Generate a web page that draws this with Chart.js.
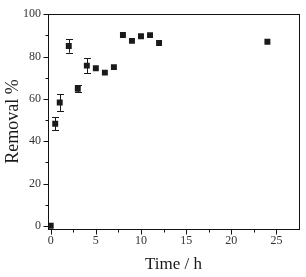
<!DOCTYPE html>
<html>
<head>
<meta charset="utf-8">
<script src="https://cdn.jsdelivr.net/npm/chart.js@4/dist/chart.umd.min.js"></script>
<style>
html,body{margin:0;padding:0;background:#fff;}
#wrap{width:306px;height:277px;position:relative;}
</style>
</head>
<body>
<div id="wrap"><canvas id="c" width="306" height="277"></canvas></div>
<script>
const timeH = [0, 0.5, 1, 2, 3, 4, 5, 6, 7, 8, 9, 10, 11, 12, 24];
const removal = [0, 48.2, 58.3, 85.0, 64.8, 75.7, 74.5, 72.4, 75.0, 90.2, 87.4, 89.6, 90.1, 86.4, 87.0];
const errors = [0, 3.1, 4.0, 3.2, 1.7, 3.6, 0, 0, 0, 0, 0, 0, 0, 0, 0];
const xMajorTicks = [0, 5, 10, 15, 20, 25];
const xMinorTicks = [2.5, 7.5, 12.5, 17.5, 22.5];
const yMajorTicks = [0, 20, 40, 60, 80, 100];
const yMinorTicks = [10, 30, 50, 70, 90];

const points = timeH.map((t, i) => ({x: t, y: removal[i]}));

const framePlugin = {
  id: 'frameTicks',
  afterDatasetsDraw(chart) {
    const {ctx, chartArea: a, scales: {x, y}} = chart;
    ctx.save();
    // error bars
    ctx.strokeStyle = '#1a1a1a';
    ctx.lineWidth = 1;
    timeH.forEach((t, i) => {
      const e = errors[i];
      if (!e) return;
      const px = Math.round(x.getPixelForValue(t)) + 0.5;
      const yt = y.getPixelForValue(removal[i] + e);
      const yb = y.getPixelForValue(removal[i] - e);
      ctx.beginPath();
      ctx.moveTo(px, yt); ctx.lineTo(px, yb);
      ctx.moveTo(px - 3.5, Math.round(yt) + 0.5); ctx.lineTo(px + 3.5, Math.round(yt) + 0.5);
      ctx.moveTo(px - 3.5, Math.round(yb) + 0.5); ctx.lineTo(px + 3.5, Math.round(yb) + 0.5);
      ctx.stroke();
    });
    // frame
    ctx.strokeStyle = '#111';
    ctx.lineWidth = 1;
    ctx.strokeRect(Math.round(a.left) + 0.5, Math.round(a.top) + 0.5,
                   Math.round(a.right - a.left), Math.round(a.bottom - a.top));
    // ticks
    const bx = Math.round(a.bottom) + 0.5;
    const lx = Math.round(a.left) + 0.5;
    ctx.beginPath();
    xMajorTicks.forEach(v => { const p = Math.round(x.getPixelForValue(v)) + 0.5; ctx.moveTo(p, bx); ctx.lineTo(p, bx + 5); });
    xMinorTicks.forEach(v => { const p = Math.round(x.getPixelForValue(v)) + 0.5; ctx.moveTo(p, bx); ctx.lineTo(p, bx + 3); });
    yMajorTicks.forEach(v => { const p = Math.round(y.getPixelForValue(v)) + 0.5; ctx.moveTo(lx, p); ctx.lineTo(lx - 5, p); });
    yMinorTicks.forEach(v => { const p = Math.round(y.getPixelForValue(v)) + 0.5; ctx.moveTo(lx, p); ctx.lineTo(lx - 3, p); });
    ctx.stroke();
    ctx.restore();
  }
};

new Chart(document.getElementById('c'), {
  type: 'scatter',
  data: {
    datasets: [{
      data: points,
      pointStyle: 'rect',
      pointRadius: 4.2,
      pointHoverRadius: 4.2,
      backgroundColor: '#1a1a1a',
      borderColor: '#1a1a1a',
      borderWidth: 0
    }]
  },
  options: {
    responsive: false,
    animation: false,
    devicePixelRatio: 1,
    layout: {padding: {top: 9, right: 7, left: 0, bottom: 0}},
    plugins: {legend: {display: false}, tooltip: {enabled: false}},
    scales: {
      x: {
        type: 'linear',
        min: -0.3,
        max: 27.5,
        afterBuildTicks: s => { s.ticks = xMajorTicks.map(v => ({value: v})); },
        afterFit: s => { s.height = 48; },
        grid: {display: false, drawTicks: false},
        border: {display: false},
        ticks: {
          padding: 5,
          color: '#333',
          maxRotation: 0,
          autoSkip: false,
          font: {family: 'Liberation Serif', size: 12}
        },
        title: {
          display: true,
          text: 'Time / h',
          color: '#1a1a1a',
          padding: {top: 0, bottom: 2},
          font: {family: 'Liberation Serif', size: 17}
        }
      },
      y: {
        type: 'linear',
        min: -1.5,
        max: 100,
        afterBuildTicks: s => { s.ticks = yMajorTicks.map(v => ({value: v})); },
        afterFit: s => { s.width = 48; },
        grid: {display: false, drawTicks: false},
        border: {display: false},
        ticks: {
          padding: 7,
          color: '#333',
          autoSkip: false,
          font: {family: 'Liberation Serif', size: 12}
        },
        title: {
          display: true,
          text: 'Removal %',
          color: '#1a1a1a',
          padding: {top: 2, bottom: 0},
          font: {family: 'Liberation Serif', size: 18}
        }
      }
    }
  },
  plugins: [framePlugin]
});
</script>
</body>
</html>
